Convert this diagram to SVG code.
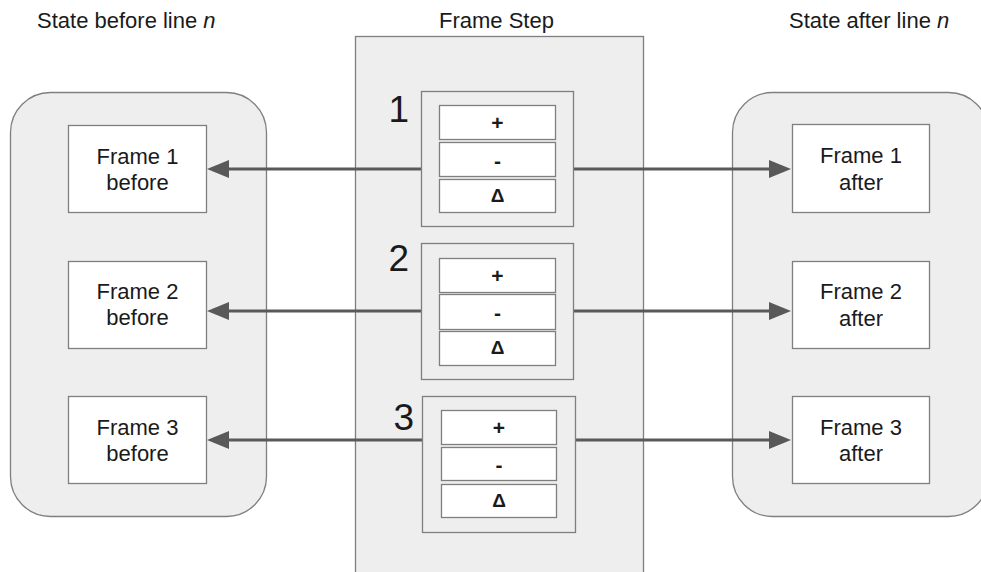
<svg xmlns="http://www.w3.org/2000/svg" width="981" height="572" viewBox="0 0 981 572">
<style>
  text { font-family: "Liberation Sans", Arial, sans-serif; fill: #1a1a1a; }
  .lbl { font-size: 22px; }
  .ctr { text-anchor: middle; }
  .num { font-size: 37px; text-anchor: end; }
  .op { font-size: 21px; font-weight: bold; text-anchor: middle; }
  .delta { font-size: 19px; font-weight: bold; text-anchor: middle; }
  .container { fill: #eeeeee; stroke: #7f7f7f; stroke-width: 1.3; }
  .frame { fill: #ffffff; stroke: #7f7f7f; stroke-width: 1.3; }
  .step { fill: #eeeeee; stroke: #7f7f7f; stroke-width: 1.3; }
  .sub { fill: #ffffff; stroke: #7f7f7f; stroke-width: 1.3; }
  .conn { stroke: #595959; stroke-width: 3.2; fill: none; marker-end: url(#arrow); }
</style>
<defs>
  <marker id="arrow" viewBox="0 0 22 18" refX="12" refY="9" markerWidth="22" markerHeight="18" markerUnits="userSpaceOnUse" orient="auto">
    <path d="M0,0 L22,9 L0,18 z" fill="#595959"/>
  </marker>
</defs>
<rect width="981" height="572" fill="#ffffff"/>

<g id="title-before"><text class="lbl" x="37" y="28">State before line <tspan font-style="italic">n</tspan></text></g>
<g id="title-step"><text class="lbl" x="439" y="28">Frame Step</text></g>
<g id="title-after"><text class="lbl" x="789" y="28">State after line <tspan font-style="italic">n</tspan></text></g>

<g id="state-before"><rect class="container" x="10.5" y="92.5" width="256" height="424" rx="40" ry="40"/></g>
<g id="frame-step"><rect class="container" x="355.5" y="36.5" width="288" height="545"/></g>
<g id="state-after"><rect class="container" x="732.5" y="92.5" width="256" height="424" rx="40" ry="40"/></g>

<g id="frame1-before"><rect class="frame" x="68.5" y="125.5" width="138" height="87"/>
  <text class="lbl ctr" x="137.5" y="164">Frame 1</text><text class="lbl ctr" x="137.5" y="190">before</text></g>
<g id="frame2-before"><rect class="frame" x="68.5" y="261.5" width="138" height="87"/>
  <text class="lbl ctr" x="137.5" y="299">Frame 2</text><text class="lbl ctr" x="137.5" y="325">before</text></g>
<g id="frame3-before"><rect class="frame" x="68.5" y="396.5" width="138" height="87"/>
  <text class="lbl ctr" x="137.5" y="435">Frame 3</text><text class="lbl ctr" x="137.5" y="461">before</text></g>

<g id="frame1-after"><rect class="frame" x="792.5" y="124.5" width="137" height="88"/>
  <text class="lbl ctr" x="861" y="163">Frame 1</text><text class="lbl ctr" x="861" y="190">after</text></g>
<g id="frame2-after"><rect class="frame" x="792.5" y="261.5" width="137" height="87"/>
  <text class="lbl ctr" x="861" y="299">Frame 2</text><text class="lbl ctr" x="861" y="326">after</text></g>
<g id="frame3-after"><rect class="frame" x="792.5" y="396.5" width="137" height="87"/>
  <text class="lbl ctr" x="861" y="435">Frame 3</text><text class="lbl ctr" x="861" y="461">after</text></g>

<g id="connectors">
  <line class="conn" x1="421" y1="169" x2="217" y2="169"/>
  <line class="conn" x1="574" y1="169" x2="781" y2="169"/>
  <line class="conn" x1="421" y1="311" x2="217" y2="311"/>
  <line class="conn" x1="574" y1="311" x2="781" y2="311"/>
  <line class="conn" x1="422" y1="440" x2="217" y2="440"/>
  <line class="conn" x1="575" y1="440" x2="781" y2="440"/>
</g>

<g id="step1">
  <rect class="step" x="421.5" y="91.5" width="152" height="135"/>
  <text class="num" x="409" y="122">1</text>
  <rect class="sub" x="439.5" y="105.5" width="116" height="34"/><text class="op" x="497.5" y="130">+</text>
  <rect class="sub" x="439.5" y="142.5" width="116" height="34"/><text class="op" x="497.5" y="168">-</text>
  <rect class="sub" x="439.5" y="179.5" width="116" height="33"/><text class="delta" x="497.5" y="202">Δ</text>
</g>
<g id="step2">
  <rect class="step" x="421.5" y="243.5" width="152" height="136"/>
  <text class="num" x="409" y="271">2</text>
  <rect class="sub" x="439.5" y="258.5" width="116" height="34"/><text class="op" x="497.5" y="283">+</text>
  <rect class="sub" x="439.5" y="294.5" width="116" height="35"/><text class="op" x="497.5" y="320">-</text>
  <rect class="sub" x="439.5" y="331.5" width="116" height="34"/><text class="delta" x="497.5" y="354">Δ</text>
</g>
<g id="step3">
  <rect class="step" x="422.5" y="396.5" width="153" height="136"/>
  <text class="num" x="414" y="430">3</text>
  <rect class="sub" x="441.5" y="410.5" width="115" height="34"/><text class="op" x="499" y="435">+</text>
  <rect class="sub" x="441.5" y="447.5" width="115" height="33"/><text class="op" x="499" y="472">-</text>
  <rect class="sub" x="441.5" y="484.5" width="115" height="33"/><text class="delta" x="499" y="507">Δ</text>
</g>
</svg>
